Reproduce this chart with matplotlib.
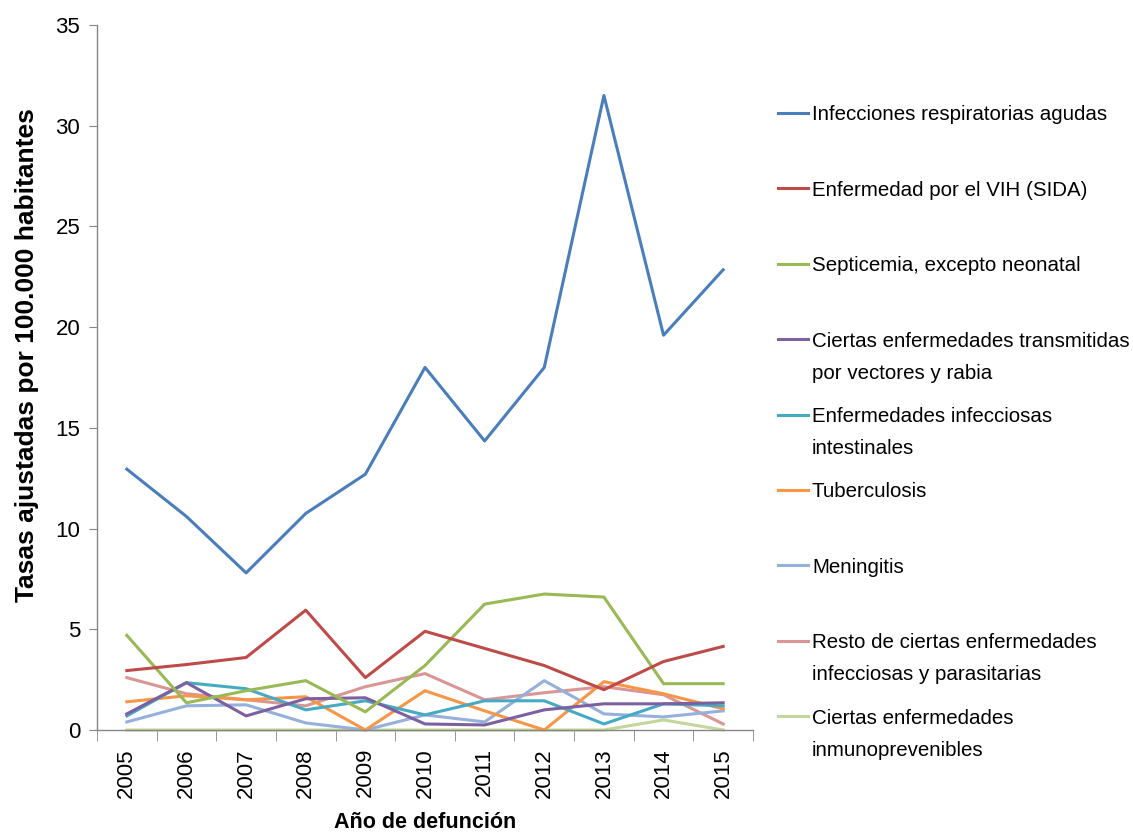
import matplotlib
matplotlib.use("Agg")
import matplotlib.pyplot as plt
from matplotlib.lines import Line2D

plt.rcParams['font.family'] = ['Liberation Sans', 'DejaVu Sans']

years = [2005, 2006, 2007, 2008, 2009, 2010, 2011, 2012, 2013, 2014, 2015]

ira = [12.95, 10.6, 7.8, 10.75, 12.7, 18.0, 14.35, 18.0, 31.5, 19.6, 22.85]
vih = [2.95, 3.25, 3.6, 5.95, 2.6, 4.9, 4.05, 3.2, 2.0, 3.4, 4.15]
septicemia = [4.7, 1.35, 1.95, 2.45, 0.9, 3.2, 6.25, 6.75, 6.6, 2.3, 2.3]
vectores = [0.8, 2.35, 0.7, 1.55, 1.6, 0.3, 0.25, 1.0, 1.3, 1.3, 1.35]
intestinales = [0.7, 2.35, 2.05, 1.0, 1.45, 0.75, 1.45, 1.45, 0.3, 1.3, 1.2]
tuberculosis = [1.4, 1.7, 1.5, 1.65, 0.0, 1.95, 0.95, 0.0, 2.4, 1.8, 1.05]
meningitis = [0.4, 1.2, 1.25, 0.35, 0.0, 0.75, 0.4, 2.45, 0.8, 0.65, 0.95]
resto = [2.6, 1.8, 1.5, 1.2, 2.15, 2.8, 1.5, 1.85, 2.15, 1.75, 0.3]
inmuno = [0.0, 0.0, 0.0, 0.0, 0.0, 0.0, 0.0, 0.0, 0.0, 0.5, 0.0]

series = [
    ("Infecciones respiratorias agudas", ira, "#4A7EBB"),
    ("Enfermedad por el VIH (SIDA)", vih, "#BE4B48"),
    ("Septicemia, excepto neonatal", septicemia, "#98B954"),
    ("Ciertas enfermedades transmitidas\npor vectores y rabia", vectores, "#7D60A0"),
    ("Enfermedades infecciosas\nintestinales", intestinales, "#46AAC5"),
    ("Tuberculosis", tuberculosis, "#F79646"),
    ("Meningitis", meningitis, "#95B0DB"),
    ("Resto de ciertas enfermedades\ninfecciosas y parasitarias", resto, "#D99694"),
    ("Ciertas enfermedades\ninmunoprevenibles", inmuno, "#C3D69B"),
]

W, H = 1133, 834
fig = plt.figure(figsize=(W / 100, H / 100), dpi=100)
ax = fig.add_axes([97 / W, 1 - 730 / H, 656 / W, 705 / H])

xs = list(range(len(years)))
for label, vals, color in reversed(series):
    ax.plot(xs, vals, color=color, lw=2.2, clip_on=False)

ax.set_xlim(-0.5, len(years) - 0.5)
ax.set_ylim(0, 35)
ax.set_yticks(range(0, 36, 5))
ax.set_xticks(xs)
ax.set_xticklabels([str(y) for y in years], rotation=90)
ax.set_xticks([x - 0.5 for x in range(len(years) + 1)], minor=True)
ax.tick_params(axis='x', which='major', length=0, pad=13, labelsize=16)
ax.tick_params(axis='x', which='minor', length=8, color='#868686', direction='out')
ax.tick_params(axis='y', length=6, color='#868686', labelsize=16, pad=6)

for s in ['top', 'right']:
    ax.spines[s].set_visible(False)
for s in ['left', 'bottom']:
    ax.spines[s].set_color('#868686')
    ax.spines[s].set_linewidth(1.0)

ax.set_ylabel("Tasas ajustadas por 100.000 habitantes", fontsize=19, fontweight='bold')
ax.yaxis.set_label_coords(-58 / 656, (730 - 355) / 705)
ax.set_xlabel("Año de defunción", fontsize=15.5, fontweight='bold')
ax.xaxis.set_label_coords(0.5, -(822 - 730) / 705)
ax.xaxis.label.set_va('center')

# legend drawn by hand to keep Excel-like spacing
for i, (label, vals, color) in enumerate(series):
    ypix = 113 + 75.4 * i
    fig.add_artist(Line2D([778 / W, 808 / W], [1 - ypix / H, 1 - ypix / H],
                          color=color, lw=2.2, transform=fig.transFigure))
    for j, part in enumerate(label.split("\n")):
        fig.text(812 / W, 1 - (ypix + 7.5 + 32 * j) / H, part, fontsize=14.8,
                 va='baseline', ha='left')

fig.savefig("out.png", dpi=100)
